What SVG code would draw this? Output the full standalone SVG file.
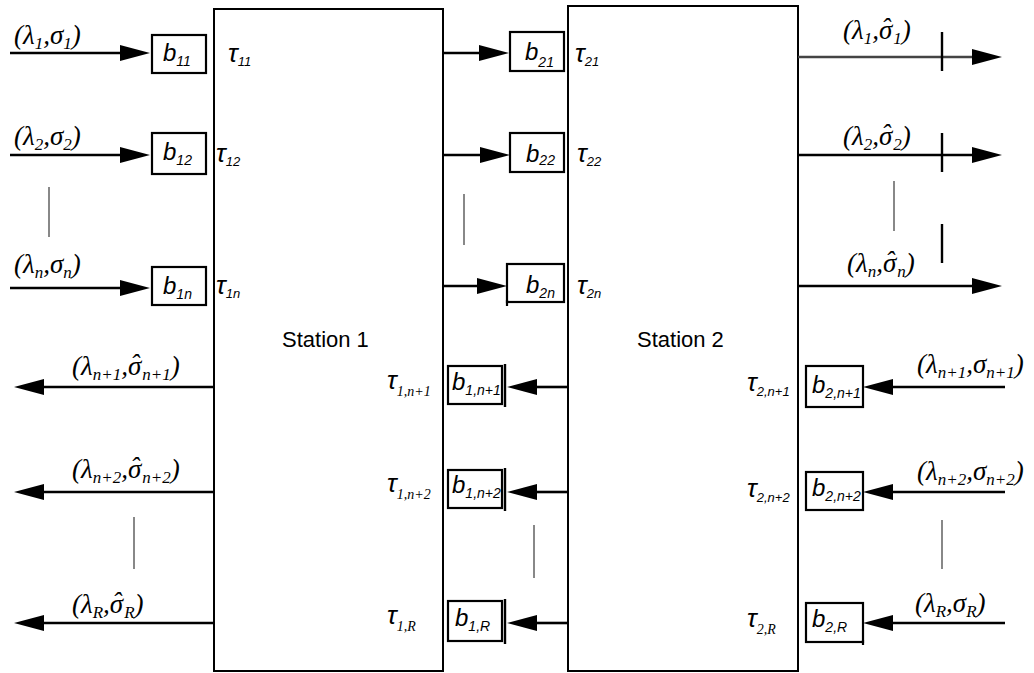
<svg xmlns="http://www.w3.org/2000/svg" width="1034" height="673" viewBox="0 0 1034 673">
<defs>
<marker id="ah" markerUnits="userSpaceOnUse" markerWidth="30" markerHeight="18" refX="0" refY="9" orient="auto">
<path d="M0,1 L30,9 L0,17 z" fill="#000"/>
</marker>
<style>
.st{fill:#fff;stroke:#000;stroke-width:2}
.bx{fill:#fff;stroke:#000;stroke-width:2.2}
.ln{stroke:#000;stroke-width:2.6;fill:none}
.gr{stroke:#888;stroke-width:2;fill:none}
.tk{stroke:#000;stroke-width:2.4;fill:none}
.lab{font-family:"Liberation Serif","DejaVu Serif",serif;font-style:italic;font-size:27px;fill:#000}
.ls{font-size:17px}
.b{font-family:"Liberation Sans",Arial,sans-serif;font-style:italic;font-size:24px;fill:#000}
.bs{font-size:14px}
.t{font-family:"Liberation Sans",Arial,sans-serif;font-style:italic;font-size:26px;fill:#000}
.ts{font-size:13px}
.tt{font-family:"Liberation Serif",serif;font-size:14px}
.sn{font-family:"Liberation Sans",Arial,sans-serif;font-size:22px;fill:#000}
</style>
</defs>

<g id="station1">
<rect class="st" x="214" y="9" width="229" height="662"/>
<text class="sn" x="282" y="347">Station 1</text>
</g>
<g id="station2">
<rect class="st" x="568" y="6" width="230" height="665"/>
<text class="sn" x="637" y="347">Station 2</text>
</g>

<g id="connectors">
<line class="ln" x1="10" y1="53" x2="120" y2="53" marker-end="url(#ah)"/>
<line class="ln" x1="10" y1="155" x2="120" y2="155" marker-end="url(#ah)"/>
<line class="ln" x1="10" y1="288" x2="120" y2="288" marker-end="url(#ah)"/>
<line class="ln" x1="214" y1="387" x2="44" y2="387" marker-end="url(#ah)"/>
<line class="ln" x1="214" y1="492" x2="44" y2="492" marker-end="url(#ah)"/>
<line class="ln" x1="214" y1="623" x2="44" y2="623" marker-end="url(#ah)"/>
<line class="ln" x1="443" y1="53" x2="479" y2="53" marker-end="url(#ah)"/>
<line class="ln" x1="443" y1="155" x2="480" y2="155" marker-end="url(#ah)"/>
<line class="ln" x1="443" y1="286" x2="477" y2="286" marker-end="url(#ah)"/>
<line class="ln" x1="568" y1="387" x2="537" y2="387" marker-end="url(#ah)"/>
<line class="ln" x1="568" y1="492" x2="537" y2="492" marker-end="url(#ah)"/>
<line class="ln" x1="568" y1="623" x2="537" y2="623" marker-end="url(#ah)"/>
<line class="ln" x1="798" y1="57" x2="972" y2="57" marker-end="url(#ah)" style="stroke:#444"/>
<line class="ln" x1="798" y1="155" x2="972" y2="155" marker-end="url(#ah)"/>
<line class="ln" x1="798" y1="286" x2="972" y2="286" marker-end="url(#ah)"/>
<line class="tk" x1="942" y1="32" x2="942" y2="71"/>
<line class="tk" x1="942" y1="133" x2="942" y2="172"/>
<line class="tk" x1="942" y1="224" x2="942" y2="263"/>
<line class="ln" x1="1005" y1="387" x2="893" y2="387" marker-end="url(#ah)"/>
<line class="ln" x1="1005" y1="492" x2="893" y2="492" marker-end="url(#ah)"/>
<line class="ln" x1="1005" y1="623" x2="893" y2="623" marker-end="url(#ah)"/>
<line class="gr" x1="49" y1="187" x2="49" y2="237"/>
<line class="gr" x1="134" y1="517" x2="134" y2="569"/>
<line class="gr" x1="464" y1="194" x2="464" y2="245"/>
<line class="gr" x1="534" y1="525" x2="534" y2="578"/>
<line class="gr" x1="894" y1="181" x2="894" y2="231"/>
<line class="gr" x1="942" y1="520" x2="942" y2="569"/>
</g>

<g id="flow-labels">
<text class="lab" x="14" y="44">(λ<tspan class="ls" dy="5">1</tspan><tspan dy="-5">,σ</tspan><tspan class="ls" dy="5">1</tspan><tspan dy="-5">)</tspan></text>
<text class="lab" x="14" y="145">(λ<tspan class="ls" dy="5">2</tspan><tspan dy="-5">,σ</tspan><tspan class="ls" dy="5">2</tspan><tspan dy="-5">)</tspan></text>
<text class="lab" x="14" y="273">(λ<tspan class="ls" dy="5">n</tspan><tspan dy="-5">,σ</tspan><tspan class="ls" dy="5">n</tspan><tspan dy="-5">)</tspan></text>

<text class="lab" x="72" y="375">(λ<tspan class="ls" dy="5">n+1</tspan><tspan dy="-5">,σ</tspan><tspan dx="-11" dy="-2">ˆ</tspan><tspan class="ls" dx="3" dy="7">n+1</tspan><tspan dy="-5">)</tspan></text>
<text class="lab" x="72" y="478">(λ<tspan class="ls" dy="5">n+2</tspan><tspan dy="-5">,σ</tspan><tspan dx="-11" dy="-2">ˆ</tspan><tspan class="ls" dx="3" dy="7">n+2</tspan><tspan dy="-5">)</tspan></text>
<text class="lab" x="72" y="613">(λ<tspan class="ls" dy="5">R</tspan><tspan dy="-5">,σ</tspan><tspan dx="-11" dy="-2">ˆ</tspan><tspan class="ls" dx="3" dy="7">R</tspan><tspan dy="-5">)</tspan></text>

<text class="lab" x="843" y="39">(λ<tspan class="ls" dy="5">1</tspan><tspan dy="-5">,σ</tspan><tspan dx="-11" dy="-2">ˆ</tspan><tspan class="ls" dx="3" dy="7">1</tspan><tspan dy="-5">)</tspan></text>
<text class="lab" x="843" y="145">(λ<tspan class="ls" dy="5">2</tspan><tspan dy="-5">,σ</tspan><tspan dx="-11" dy="-2">ˆ</tspan><tspan class="ls" dx="3" dy="7">2</tspan><tspan dy="-5">)</tspan></text>
<text class="lab" x="847" y="272">(λ<tspan class="ls" dy="5">n</tspan><tspan dy="-5">,σ</tspan><tspan dx="-11" dy="-2">ˆ</tspan><tspan class="ls" dx="3" dy="7">n</tspan><tspan dy="-5">)</tspan></text>

<text class="lab" x="917" y="373">(λ<tspan class="ls" dy="5">n+1</tspan><tspan dy="-5">,σ</tspan><tspan class="ls" dy="5">n+1</tspan><tspan dy="-5">)</tspan></text>
<text class="lab" x="917" y="480">(λ<tspan class="ls" dy="5">n+2</tspan><tspan dy="-5">,σ</tspan><tspan class="ls" dy="5">n+2</tspan><tspan dy="-5">)</tspan></text>
<text class="lab" x="915" y="612">(λ<tspan class="ls" dy="5">R</tspan><tspan dy="-5">,σ</tspan><tspan class="ls" dy="5">R</tspan><tspan dy="-5">)</tspan></text>
</g>

<g id="b11"><rect class="bx" x="152" y="35" width="54" height="38"/><text class="b" x="163" y="61">b<tspan class="bs" dy="5">11</tspan></text></g>
<g id="b12"><rect class="bx" x="152" y="133" width="54" height="41"/><text class="b" x="163" y="160">b<tspan class="bs" dy="5">12</tspan></text></g>
<g id="b1n"><rect class="bx" x="152" y="267" width="54" height="38"/><text class="b" x="163" y="294">b<tspan class="bs" dy="5">1n</tspan></text></g>

<g id="b21"><rect class="bx" x="510" y="32" width="54" height="39"/><text class="b" x="525" y="60">b<tspan class="bs" dy="7">21</tspan></text></g>
<g id="b22"><rect class="bx" x="510" y="133" width="54" height="39"/><text class="b" x="526" y="162">b<tspan class="bs" dy="3">22</tspan></text></g>
<g id="b2n"><rect class="bx" x="507" y="264" width="57" height="38"/><line class="bx" x1="507" y1="300" x2="507" y2="306"/><text class="b" x="526" y="293">b<tspan class="bs" dy="5">2n</tspan></text></g>

<g id="b1n1"><rect class="bx" x="448" y="366" width="54" height="38"/><line class="tk" x1="505" y1="364" x2="505" y2="407"/><text class="b" x="452" y="390">b<tspan class="bs" dy="5">1,n+1</tspan></text></g>
<g id="b1n2"><rect class="bx" x="448" y="470" width="54" height="38"/><line class="tk" x1="505" y1="468" x2="505" y2="511"/><text class="b" x="452" y="493">b<tspan class="bs" dy="5">1,n+2</tspan></text></g>
<g id="b1R"><rect class="bx" x="448" y="601" width="54" height="40"/><line class="tk" x1="505" y1="599" x2="505" y2="644"/><text class="b" x="455" y="626">b<tspan class="bs" dy="5">1,R</tspan></text></g>

<g id="b2n1"><rect class="bx" x="806" y="366" width="57" height="41"/><text class="b" x="812" y="393">b<tspan class="bs" dy="5">2,n+1</tspan></text></g>
<g id="b2n2"><rect class="bx" x="806" y="472" width="57" height="38"/><text class="b" x="812" y="496">b<tspan class="bs" dy="5">2,n+2</tspan></text></g>
<g id="b2R"><rect class="bx" x="806" y="603" width="57" height="39"/><line class="bx" x1="863" y1="640" x2="863" y2="645"/><text class="b" x="812" y="627">b<tspan class="bs" dy="5">2,R</tspan></text></g>

<g id="tau">
<text class="t" x="228" y="62">τ<tspan class="ts" dy="4">11</tspan></text>
<text class="t" x="216" y="162">τ<tspan class="ts" dy="4">12</tspan></text>
<text class="t" x="216" y="294">τ<tspan class="ts" dy="4">1n</tspan></text>
<text class="t" x="575" y="62">τ<tspan class="ts" dy="4">21</tspan></text>
<text class="t" x="577" y="162">τ<tspan class="ts" dy="4">22</tspan></text>
<text class="t" x="577" y="294">τ<tspan class="ts" dy="4">2n</tspan></text>
<text class="t" x="387" y="389">τ<tspan class="tt" dy="7">1,n+1</tspan></text>
<text class="t" x="387" y="492">τ<tspan class="tt" dy="7">1,n+2</tspan></text>
<text class="t" x="387" y="624">τ<tspan class="tt" dy="7">1,R</tspan></text>
<text class="t" x="747" y="391">τ<tspan class="ts" dy="5">2,n+1</tspan></text>
<text class="t" x="747" y="497">τ<tspan class="ts" dy="5">2,n+2</tspan></text>
<text class="t" x="747" y="627">τ<tspan class="tt" dy="7">2,R</tspan></text>
</g>
</svg>
